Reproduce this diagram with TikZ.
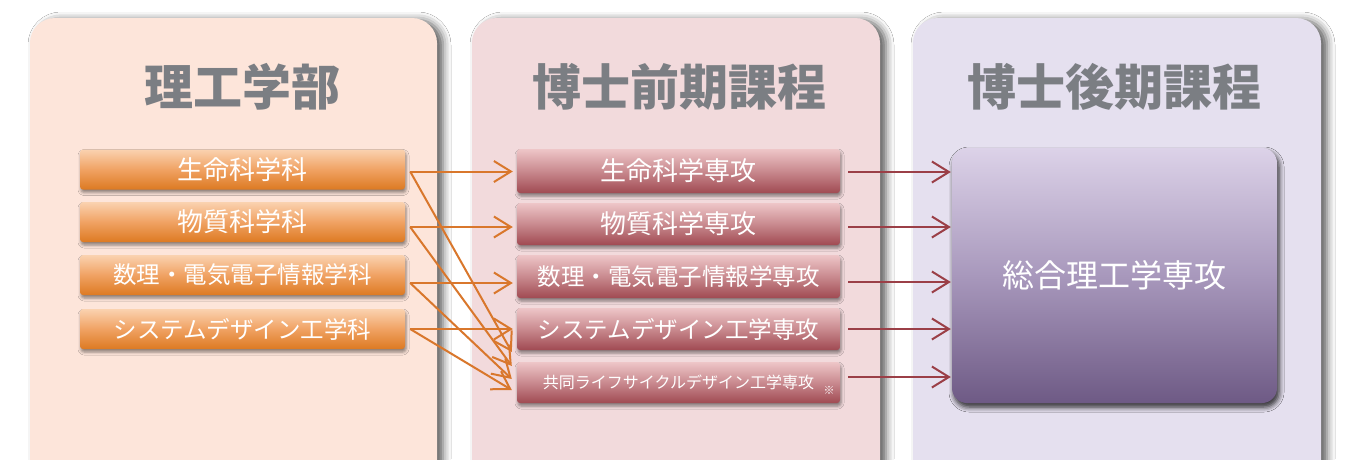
\documentclass[tikz,border=0pt]{standalone}
\usepackage{fontspec}
\setmainfont{Noto Sans CJK JP}
\usetikzlibrary{arrows.meta,shadows.blur,calc}
\definecolor{pA}{HTML}{FDE5DA}
\definecolor{pB}{HTML}{F2DADC}
\definecolor{pC}{HTML}{E5E0EF}
\definecolor{titlegray}{HTML}{7B7E83}
\definecolor{lo1}{HTML}{FAD2B0}
\definecolor{lo2}{HTML}{F0A263}
\definecolor{lo3}{HTML}{DD7A22}
\definecolor{mr1}{HTML}{EEC6C8}
\definecolor{mr2}{HTML}{C98A8F}
\definecolor{mr3}{HTML}{A04A52}
\definecolor{rv1}{HTML}{DCD2E8}
\definecolor{rv2}{HTML}{A898BC}
\definecolor{rv3}{HTML}{6E5A85}
\definecolor{orangeln}{HTML}{D9772C}
\definecolor{redln}{HTML}{9B3F47}
\begin{document}
\begin{tikzpicture}[x=1pt,y=-1pt,
  panel/.style={rounded corners=25pt, blur shadow={shadow xshift=6pt, shadow yshift=-2pt, shadow blur radius=8pt, shadow opacity=65}},
  title/.style={font=\fontsize{49}{55}\selectfont\bfseries, text=titlegray, inner sep=0pt},
  boxbase/.style={rectangle, rounded corners=3pt, inner sep=0pt, text=white,
    blur shadow={shadow xshift=1pt, shadow yshift=-3pt, shadow blur radius=3pt, shadow opacity=45}},
  lbox/.style={boxbase, minimum width=325pt, minimum height=40pt,
    top color=lo1, bottom color=lo3, middle color=lo2},
  mbox/.style={boxbase, minimum width=323pt, minimum height=42pt,
    top color=mr1, bottom color=mr3, middle color=mr2},
  big/.style={mbox, font=\fontsize{26}{30}\selectfont},
  small/.style={mbox, font=\fontsize{23.5}{27}\selectfont},
  lbig/.style={lbox, font=\fontsize{26}{30}\selectfont},
  lsmall/.style={lbox, font=\fontsize{23.5}{27}\selectfont},
  oarr/.style={draw=orangeln, line width=2pt, -{Straight Barb[length=17pt,width=21pt]}},
  rarr/.style={draw=redln, line width=2pt, -{Straight Barb[length=17pt,width=21pt]}}
]
\useasboundingbox (0,0) rectangle (1363,459);
\clip (0,0) rectangle (1363,459);
\fill[white] (0,0) rectangle (1363,459);

% panels
\path[panel, fill=pA] (30,18) rectangle (437,490);
\path[panel, fill=pB] (472,18) rectangle (880,490);
\path[panel, fill=pC] (913,18) rectangle (1321,490);

% titles
\node[title] (t1) at (242.5,87) {理工学部};
\node[title] (t2) at (679,87) {博士前期課程};
\node[title] (t3) at (1114.5,87) {博士後期課程};

% left boxes
\node[lbig] (l1) at (242.5,169.5) {生命科学科};
\node[lbig] (l2) at (242.5,222) {物質科学科};
\node[lsmall] (l3) at (242.5,275) {数理・電気電子情報学科};
\node[lsmall] (l4) at (242.5,329) {システムデザイン工学科};

% middle boxes
\node[big, minimum height=44pt] (m1) at (678.5,171) {生命科学専攻};
\node[big] (m2) at (678.5,224) {物質科学専攻};
\node[small, minimum height=43pt] (m3) at (678.5,276.5) {数理・電気電子情報学専攻};
\node[small] (m4) at (678.5,329) {システムデザイン工学専攻};
\node[mbox, minimum height=41pt, font=\fontsize{16}{19}\selectfont] (m5) at (678.5,382.5) {共同ライフサイクルデザイン工学専攻};
\node[text=white, font=\fontsize{11}{13}\selectfont, inner sep=0pt] (note) at (829,390) {※};

% right box
\node[boxbase, rounded corners=15pt, minimum width=325pt, minimum height=255pt,
  top color=rv1, bottom color=rv3, middle color=rv2,
  font=\fontsize{32}{36}\selectfont,
  blur shadow={shadow xshift=2pt, shadow yshift=-4pt, shadow blur radius=5pt, shadow opacity=50}] (r) at (1114.5,275.5) {総合理工学専攻};

% orange arrows: horizontal
\draw[oarr] ($(l1.east)+(5,2)$) -- ($(l1.east -| m1.west)+(-4,2)$);
\draw[oarr] ($(l2.east)+(5,5)$) -- ($(l2.east -| m2.west)+(-4,5)$);
\draw[oarr] ($(l3.east)+(5,8)$) -- ($(l3.east -| m3.west)+(-4,8)$);
\draw[oarr] ($(l4.east)+(5,0)$) -- ($(l4.east -| m4.west)+(-4,0)$);
% orange arrows: diagonal to joint course
\draw[oarr] ($(l1.east)+(5,2)$) -- ($(m5.west)+(-5,-30.5)$);
\draw[oarr] ($(l2.east)+(5,5)$) -- ($(m5.west)+(-5,-16.5)$);
\draw[oarr] ($(l3.east)+(5,8)$) -- ($(m5.west)+(-5,-3.5)$);
\draw[oarr] ($(l4.east)+(5,0)$) -- ($(m5.west)+(-5,7.5)$);

% red arrows
\draw[rarr] ($(m1.east)+(8,1)$) -- ($(m1.east -| r.west)+(-1,1)$);
\draw[rarr] ($(m2.east)+(8,3)$) -- ($(m2.east -| r.west)+(-1,3)$);
\draw[rarr] ($(m3.east)+(8,5.5)$) -- ($(m3.east -| r.west)+(-1,5.5)$);
\draw[rarr] ($(m4.east)+(8,0)$) -- ($(m4.east -| r.west)+(-1,0)$);
\draw[rarr] ($(m5.east)+(8,-5.5)$) -- ($(m5.east -| r.west)+(-1,-5.5)$);
\end{tikzpicture}
\end{document}
